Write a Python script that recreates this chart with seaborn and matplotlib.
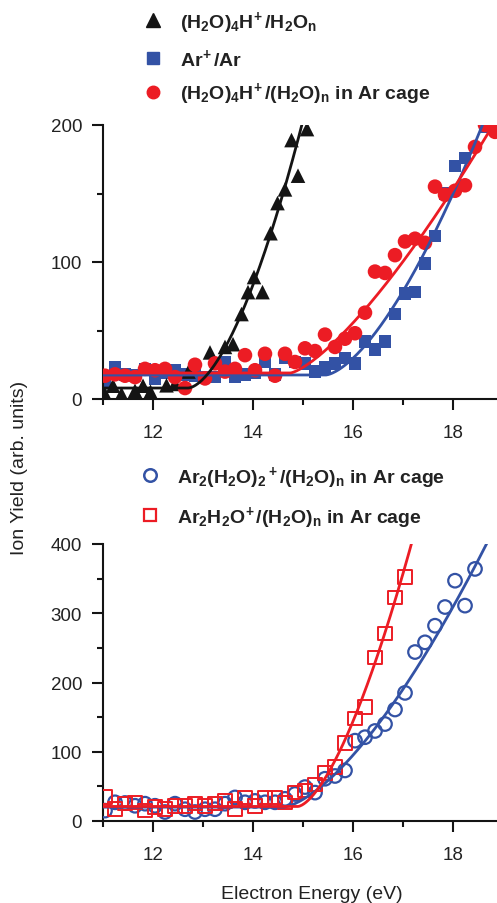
import numpy as np
import pandas as pd
import matplotlib
matplotlib.use("Agg")
import matplotlib.pyplot as plt
from matplotlib.lines import Line2D
from matplotlib.ticker import MultipleLocator
import seaborn as sns

# ---------------- data ----------------
# top panel
tri_x = [11.04, 11.20, 11.37, 11.64, 11.80, 11.95, 12.27, 12.44, 12.71, 13.14, 13.44,
         13.60, 13.77, 13.90, 14.02, 14.19, 14.35, 14.49, 14.64, 14.77, 14.90, 15.08]
tri_y = [3.6, 9.7, 3.6, 6, 9.7, 5.3, 10, 11, 20, 34, 38,
         40, 62, 78, 89, 78, 121, 143, 153, 189, 163, 197]

ar_x = [11.04, 11.24, 11.44, 11.64, 11.84, 12.04, 12.24, 12.44, 12.64, 12.84, 13.04,
        13.24, 13.44, 13.64, 13.84, 14.04, 14.24, 14.44, 14.64, 14.84, 15.04, 15.24,
        15.44, 15.64, 15.84, 16.04, 16.24, 16.44, 16.64, 16.84, 17.04, 17.24, 17.44,
        17.64, 17.84, 18.04, 18.24, 18.64]
ar_y = [12, 23, 18, 17, 22, 15, 19, 21, 18, 17, 16,
        16, 27, 16, 18, 19, 27, 18, 30, 27, 26, 20,
        23, 26, 30, 26, 42, 36, 42, 62, 77, 78, 99,
        119, 150, 170, 176, 199]

cage_x = [11.04, 11.24, 11.44, 11.64, 11.84, 12.04, 12.24, 12.44, 12.64, 12.84, 13.04,
          13.24, 13.44, 13.64, 13.84, 14.04, 14.24, 14.44, 14.64, 14.84, 15.04, 15.24,
          15.44, 15.64, 15.84, 16.04, 16.24, 16.44, 16.64, 16.84, 17.04, 17.24, 17.44,
          17.64, 17.84, 18.04, 18.24, 18.44, 18.64, 18.84]
cage_y = [17, 18, 17, 16, 22, 21, 22, 16, 8, 25, 15,
          26, 20, 22, 32, 21, 33, 17, 33, 27, 37, 35,
          47, 38, 44, 48, 63, 93, 92, 105, 115, 117, 114,
          155, 149, 152, 156, 184, 200, 195]

# bottom panel
ar2w2_x = [11.04, 11.24, 11.44, 11.64, 11.84, 12.04, 12.24, 12.44, 12.64, 12.84, 13.04,
           13.24, 13.44, 13.64, 13.84, 14.04, 14.24, 14.44, 14.64, 14.84, 15.04, 15.24,
           15.44, 15.64, 15.84, 16.04, 16.24, 16.44, 16.64, 16.84, 17.04, 17.24, 17.44,
           17.64, 17.84, 18.04, 18.24, 18.44]
ar2w2_y = [15, 27, 26, 22, 25, 22, 13, 25, 17, 13, 17,
           17, 25, 34, 27, 29, 27, 27, 32, 39, 49, 41,
           61, 65, 73, 116, 121, 130, 140, 161, 185, 244, 258,
           282, 309, 347, 311, 364]

ar2w_x = [11.04, 11.24, 11.44, 11.64, 11.84, 12.04, 12.24, 12.44, 12.64, 12.84, 13.04,
          13.24, 13.44, 13.64, 13.84, 14.04, 14.24, 14.44, 14.64, 14.84, 15.04, 15.24,
          15.44, 15.64, 15.84, 16.04, 16.24, 16.44, 16.64, 16.84, 17.04]
ar2w_y = [35, 17, 25, 27, 15, 20, 17, 22, 22, 25, 22,
          25, 29, 17, 34, 22, 34, 34, 27, 41, 44, 53,
          69, 78, 113, 148, 165, 236, 271, 323, 352]

# threshold-law fit parameters: baseline, onset (eV), amplitude, exponent
fit_top = {"tri": (8, 12.70, 48.6, 1.67),
           "ar": (17.5, 15.45, 31.0, 1.55),
           "cage": (19, 14.75, 27.0, 1.36)}
fit_bot = {"ar2w2": (20, 14.60, 45.0, 1.52),
           "ar2w": (21, 14.90, 106.0, 1.556)}

top_labels = [r"$(H_2O)_4H^{\!+}/H_2O_n$", r"$Ar^{\!+}/Ar$",
              r"$(H_2O)_4H^{\!+}/(H_2O)_n$ in Ar cage"]
bot_labels = [r"$Ar_2(H_2O)_2{}^+/(H_2O)_n$ in Ar cage",
              r"$Ar_2H_2O^{\!+}/(H_2O)_n$ in Ar cage"]
xlabel = "Electron Energy (eV)"
ylabel = "Ion Yield (arb. units)"

# ---------------- style ----------------
sns.set_style("ticks")
plt.rcParams["font.family"] = ["Liberation Sans", "DejaVu Sans"]
plt.rcParams["mathtext.fontset"] = "custom"
plt.rcParams["mathtext.rm"] = "Liberation Sans:bold"
plt.rcParams["mathtext.bf"] = "Liberation Sans:bold"
plt.rcParams["mathtext.it"] = "Liberation Sans:bold"
plt.rcParams["mathtext.default"] = "bf"

BLACK = "#141414"
BLUE = "#3352a5"
RED = "#ec1c24"
TXT = "#222222"


def fit_curve(x, p):
    b, x0, a, e = p
    d = np.clip(x - x0, 0, None)
    return b + a * d ** e


fig = plt.figure(figsize=(4.97, 9.04), dpi=100)
ax1 = fig.add_axes([103 / 497, 1 - 400 / 904, 418 / 497, 274 / 904])
ax2 = fig.add_axes([103 / 497, 1 - 822 / 904, 418 / 497, 277 / 904])

xf = np.linspace(11, 19.4, 400)

# top panel
for key, col in [("ar", BLUE), ("cage", RED), ("tri", BLACK)]:
    sns.lineplot(x=xf, y=fit_curve(xf, fit_top[key]), color=col, lw=2.0, ax=ax1, zorder=4)
sns.scatterplot(x=ar_x, y=ar_y, marker="s", s=80, color=BLUE, edgecolor="none", ax=ax1, zorder=2)
sns.scatterplot(x=tri_x, y=tri_y, marker="^", s=110, color=BLACK, edgecolor="none", ax=ax1, zorder=3)
sns.scatterplot(x=cage_x, y=cage_y, marker="o", s=110, color=RED, edgecolor="none", ax=ax1, zorder=3)

# bottom panel
sns.lineplot(x=xf, y=fit_curve(xf, fit_bot["ar2w2"]), color=BLUE, lw=2.0, ax=ax2, zorder=4)
sns.lineplot(x=xf, y=fit_curve(xf, fit_bot["ar2w"]), color=RED, lw=2.0, ax=ax2, zorder=4)
ax2.scatter(ar2w2_x, ar2w2_y, marker="o", s=95, facecolors="none", edgecolors=BLUE, linewidths=1.6, zorder=3)
ax2.scatter(ar2w_x, ar2w_y, marker="s", s=95, facecolors="none", edgecolors=RED, linewidths=1.4, zorder=3)

for ax, ymax, ymaj in [(ax1, 200, 100), (ax2, 400, 100)]:
    ax.set_xlim(11, 19.36)
    ax.set_ylim(0, ymax)
    ax.xaxis.set_major_locator(MultipleLocator(2))
    ax.xaxis.set_minor_locator(MultipleLocator(1))
    ax.yaxis.set_major_locator(MultipleLocator(ymaj))
    ax.yaxis.set_minor_locator(MultipleLocator(50))
    for s in ["top", "right"]:
        ax.spines[s].set_visible(False)
    for s in ["left", "bottom"]:
        ax.spines[s].set_linewidth(1.5)
        ax.spines[s].set_color(BLACK)
    ax.tick_params(which="major", direction="out", length=8, width=1.5, color=BLACK,
                   labelsize=13.5, labelcolor=TXT)
    ax.tick_params(axis="x", which="major", pad=10)
    ax.tick_params(axis="y", which="major", pad=7)
    ax.tick_params(which="minor", direction="out", length=4, width=1.5, color=BLACK)
    ax.set_xlabel("")
    ax.set_ylabel("")

ax2.set_xlabel(xlabel, fontsize=14, color=TXT, labelpad=16)
fig.text(0.04, 0.482, ylabel, rotation=90, fontsize=14, color=TXT, ha="center", va="center")

# legends
h_top = [Line2D([], [], ls="", marker="^", ms=10, color=BLACK),
         Line2D([], [], ls="", marker="s", ms=8, color=BLUE),
         Line2D([], [], ls="", marker="o", ms=9, color=RED)]
ax1.legend(h_top, top_labels, loc="upper left", bbox_to_anchor=(143 / 497, 1 - 10 / 904),
           bbox_transform=fig.transFigure, frameon=False, prop={"weight": "bold", "size": 14},
           handlelength=1.0, handletextpad=0.9, labelspacing=0.6, borderpad=0, borderaxespad=0,
           labelcolor=TXT)
h_bot = [Line2D([], [], ls="", marker="o", ms=9, mfc="none", mec=BLUE, mew=1.8),
         Line2D([], [], ls="", marker="s", ms=9, mfc="none", mec=RED, mew=1.6)]
ax2.legend(h_bot, bot_labels, loc="upper left", bbox_to_anchor=(140 / 497, 1 - 465 / 904),
           bbox_transform=fig.transFigure, frameon=False, prop={"weight": "bold", "size": 14},
           handlelength=1.0, handletextpad=0.9, labelspacing=0.7, borderpad=0, borderaxespad=0,
           labelcolor=TXT)

fig.savefig("out.png", dpi=100)
